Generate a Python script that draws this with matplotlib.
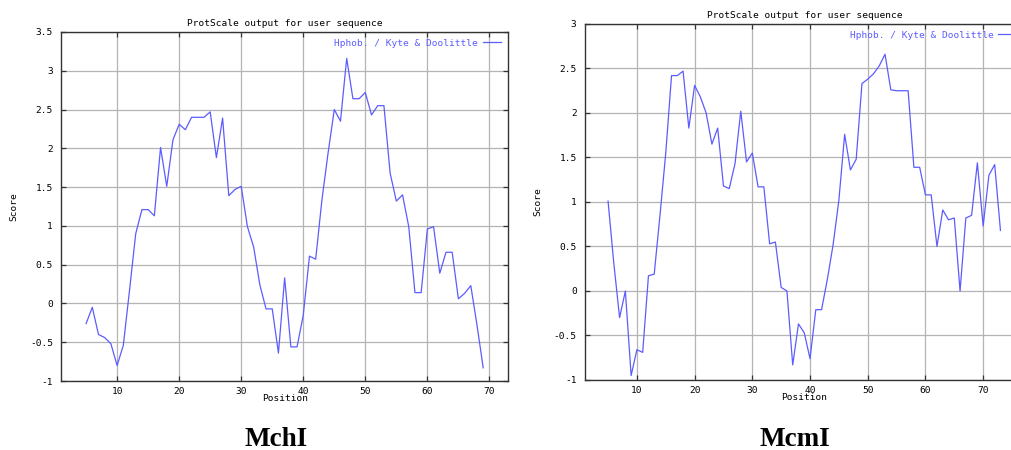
import numpy as np
import matplotlib
matplotlib.use('Agg')
from matplotlib import pyplot as plt
from matplotlib.ticker import FormatStrFormatter

# Datos (ventana de 9, Kyte & Doolittle)
mchi_pos = list(range(5, 70))
mchi_score = [-0.26, -0.05, -0.40, -0.44, -0.52, -0.80, -0.54, 0.17, 0.90, 1.21,
              1.21, 1.13, 2.01, 1.51, 2.11, 2.31, 2.24, 2.40, 2.40, 2.40,
              2.47, 1.88, 2.39, 1.39, 1.47, 1.51, 0.99, 0.73, 0.24, -0.07,
              -0.07, -0.64, 0.33, -0.56, -0.56, -0.15, 0.61, 0.57, 1.33, 1.94,
              2.50, 2.35, 3.16, 2.64, 2.64, 2.72, 2.43, 2.55, 2.55, 1.68,
              1.32, 1.40, 0.99, 0.14, 0.14, 0.96, 0.99, 0.39, 0.66, 0.66,
              0.06, 0.13, 0.23, -0.28, -0.83]

mcmi_pos = list(range(5, 74))
mcmi_score = [1.01, 0.31, -0.30, 0.00, -0.95, -0.66, -0.69, 0.17, 0.19, 0.85,
              1.55, 2.42, 2.42, 2.47, 1.83, 2.31, 2.18, 2.00, 1.65, 1.83,
              1.18, 1.15, 1.43, 2.02, 1.45, 1.55, 1.17, 1.17, 0.53, 0.55,
              0.04, 0.00, -0.83, -0.37, -0.47, -0.76, -0.21, -0.21, 0.13, 0.52,
              1.02, 1.76, 1.36, 1.48, 2.33, 2.38, 2.44, 2.53, 2.66, 2.26,
              2.25, 2.25, 2.25, 1.39, 1.39, 1.08, 1.08, 0.50, 0.91, 0.80,
              0.82, 0.00, 0.82, 0.85, 1.44, 0.73, 1.30, 1.42, 0.68]

x_ticks = [10, 20, 30, 40, 50, 60, 70]
titulo = 'ProtScale output for user sequence'
leyenda = 'Hphob. / Kyte & Doolittle'
line_color = '#5c5cff'
mono = 'DejaVu Sans Mono'

fig = plt.figure(figsize=(10.11, 4.5), dpi=100)


def dibujar(ax, pos, score, xlim, ylim, yticks, caption, cap_x):
    ax.plot(pos, score, color=line_color, lw=0.9, label=leyenda)
    ax.set_xlim(*xlim)
    ax.set_ylim(*ylim)
    ax.set_xticks(x_ticks)
    ax.set_yticks(yticks)
    ax.yaxis.set_major_formatter(FormatStrFormatter('%g'))
    ax.grid(True, color='#b4b4b4', lw=0.9)
    ax.tick_params(direction='in', top=True, right=True, length=3.5,
                   width=0.9, labelsize=6.8, color='#333333')
    ax.tick_params(axis='x', pad=4)
    ax.tick_params(axis='y', pad=6)
    for lab in ax.get_xticklabels() + ax.get_yticklabels():
        lab.set_family(mono)
    for sp in ax.spines.values():
        sp.set_color('#333333')
        sp.set_linewidth(1.0)
    ax.set_title(titulo, fontsize=6.8, family=mono, pad=4)
    ax.set_xlabel('Position', fontsize=6.8, family=mono, labelpad=-1)
    ax.set_ylabel('Score', fontsize=6.8, family=mono, labelpad=8)
    leg = ax.legend(loc='upper right', markerfirst=False, frameon=False,
                    prop={'family': mono, 'size': 6.8}, handlelength=2.0,
                    handletextpad=0.5, borderaxespad=0.3)
    for t in leg.get_texts():
        t.set_color(line_color)
    # Titulo de cada panel (debajo del grafico)
    fig.text(cap_x, 0.009, caption, ha='center', va='baseline',
             family='Liberation Serif', fontweight='bold', fontsize=19.5)


ax1 = fig.add_axes([0.0606, 0.1533, 0.4419, 0.7756])
dibujar(ax1, mchi_pos, mchi_score, (1, 73), (-1, 3.5),
        np.arange(-1, 3.51, 0.5), 'MchI', 0.273)

ax2 = fig.add_axes([0.5786, 0.1556, 0.4338, 0.7911])
dibujar(ax2, mcmi_pos, mcmi_score, (1, 77), (-1, 3),
        np.arange(-1, 3.01, 0.5), 'McmI', 0.786)

fig.savefig('out.png', dpi=100)
